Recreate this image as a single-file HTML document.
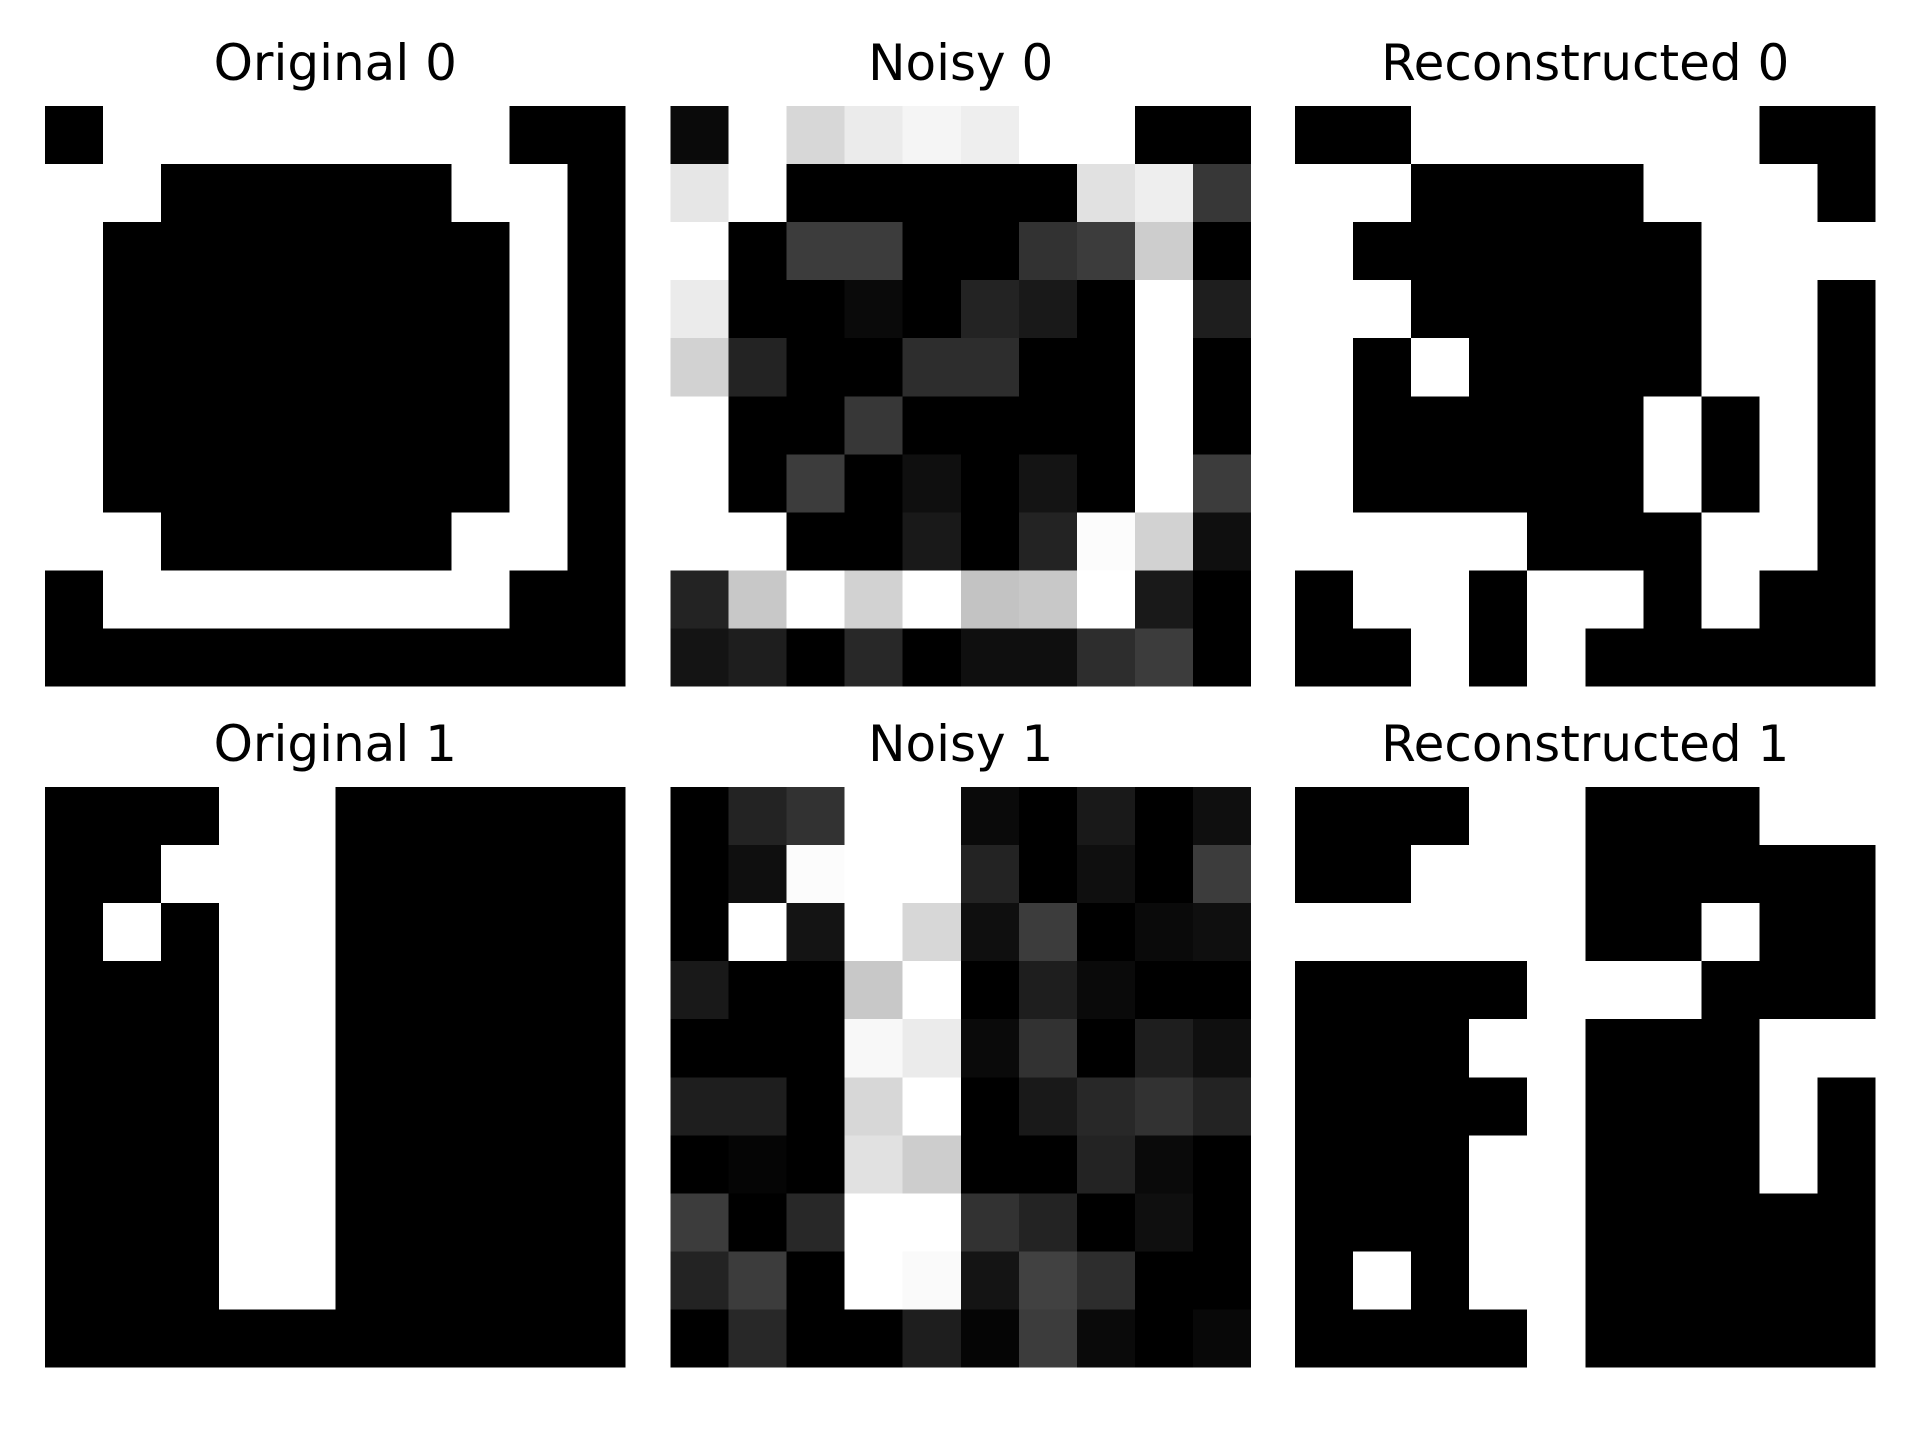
<!DOCTYPE html>
<html><head><meta charset="utf-8"><style>
html,body{margin:0;padding:0;background:#fff;}
svg{display:block;}
text{font-family:"DejaVu Sans","Liberation Sans",sans-serif;font-size:50px;fill:#000;}
</style></head><body>
<svg id="fig" width="1920" height="1440" viewBox="0 0 1920 1440" xmlns="http://www.w3.org/2000/svg" shape-rendering="crispEdges"></svg>
<script>
const titles = ["Original 0","Noisy 0","Reconstructed 0","Original 1","Noisy 1","Reconstructed 1"];
const original0 = [
"BWWWWWWWBB","WWBBBBBWWB","WBBBBBBBWB","WBBBBBBBWB","WBBBBBBBWB",
"WBBBBBBBWB","WBBBBBBBWB","WWBBBBBWWB","BWWWWWWWBB","BBBBBBBBBB"];
const recon0 = [
"BBWWWWWWBB","WWBBBBWWWB","WBBBBBBWWW","WWBBBBBWWB","WBWBBBBWWB",
"WBBBBBWBWB","WBBBBBWBWB","WWWWBBBWWB","BWWBWWBWBB","BBWBWBBBBB"];
const original1 = [
"BBBWWBBBBB","BBWWWBBBBB","BWBWWBBBBB","BBBWWBBBBB","BBBWWBBBBB",
"BBBWWBBBBB","BBBWWBBBBB","BBBWWBBBBB","BBBWWBBBBB","BBBBBBBBBB"];
const recon1 = [
"BBBWWBBBWW","BBWWWBBBBB","WWWWWBBWBB","BBBBWWWBBB","BBBWWBBBWW",
"BBBBWBBBWB","BBBWWBBBWB","BBBWWBBBBB","BWBWWBBBBB","BBBBWBBBBB"];
const noisy0 = [
[10,255,215,235,245,238,255,255,0,0],
[230,255,0,0,0,0,0,225,238,55],
[255,0,60,60,0,0,50,60,205,0],
[235,0,0,10,0,35,25,0,255,30],
[210,35,0,0,45,45,0,0,255,0],
[255,0,0,55,0,0,0,0,255,0],
[255,0,60,0,15,0,20,0,255,60],
[255,255,0,0,25,0,35,252,210,15],
[35,200,255,210,255,195,200,255,25,0],
[20,30,0,40,0,15,15,45,60,0]];
const noisy1 = [
[0,35,50,255,255,10,0,25,0,15],
[0,15,252,255,255,35,0,15,0,60],
[0,255,20,255,215,15,60,0,10,15],
[25,0,0,200,255,0,30,10,0,0],
[0,0,0,248,235,10,50,0,30,15],
[30,30,0,215,255,0,25,40,50,35],
[0,5,0,225,205,0,0,35,10,0],
[60,0,40,255,255,50,35,0,15,0],
[35,60,0,255,250,20,65,45,0,0],
[0,40,0,0,30,5,60,10,0,8]];

const NS="http://www.w3.org/2000/svg";
const svg=document.getElementById('fig');
const panelX=[45,670.5,1295];
const panelY=[106,787];
const size=580.5, n=10, cell=size/n;
function toGrey(v){return typeof v==="string"?(v==="W"?255:0):v;}
function grid(data){return data.map(r=>typeof r==="string"?r.split("").map(toGrey):r);}
const panels=[grid(original0),grid(noisy0),grid(recon0),grid(original1),grid(noisy1),grid(recon1)];
panels.forEach((g,p)=>{
  const x0=panelX[p%3], y0=panelY[Math.floor(p/3)];
  const grp=document.createElementNS(NS,'g');
  
  
  g.forEach((row,i)=>row.forEach((v,j)=>{
    const r=document.createElementNS(NS,'rect');
    
    
    r.setAttribute('x',x0+j*cell);r.setAttribute('y',y0+i*cell);
    r.setAttribute('width',cell+(j<n-1?0.6:0));r.setAttribute('height',cell+(i<n-1?0.6:0));
    r.setAttribute('fill',`rgb(${v},${v},${v})`);
    grp.appendChild(r);
  }));
  svg.appendChild(grp);
  const t=document.createElementNS(NS,'text');
  
  
  t.setAttribute('x',x0+size/2);t.setAttribute('y',y0-26);
  t.setAttribute('text-anchor','middle');
  t.textContent=titles[p];
  svg.appendChild(t);
});
</script>
</body></html>
